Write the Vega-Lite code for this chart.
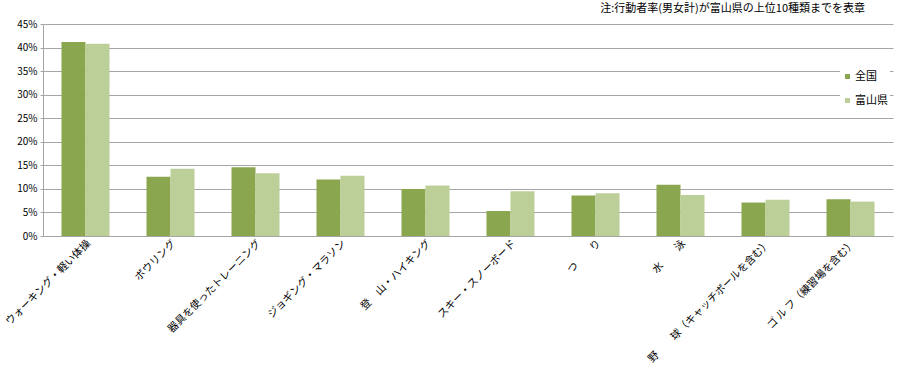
{
  "$schema": "https://vega.github.io/schema/vega-lite/v6.json",
  "autosize": {"type": "none"},
  "padding": {"left": 43, "top": 24, "right": 4, "bottom": 134},
  "width": 850,
  "height": 212,
  "background": "white",
  "title": {
    "text": "注:行動者率(男女計)が富山県の上位10種類までを表章",
    "anchor": "end",
    "fontSize": 11,
    "fontWeight": "normal",
    "font": "Noto Sans CJK JP",
    "color": "#000000",
    "dx": -28,
    "offset": 5
  },
  "data": {
    "values": [
      {"sport": "ウォーキング・軽い体操", "area": "全国", "rate": 0.412},
      {"sport": "ウォーキング・軽い体操", "area": "富山県", "rate": 0.408},
      {"sport": "ボウリング", "area": "全国", "rate": 0.126},
      {"sport": "ボウリング", "area": "富山県", "rate": 0.143},
      {"sport": "器具を使ったトレーニング", "area": "全国", "rate": 0.146},
      {"sport": "器具を使ったトレーニング", "area": "富山県", "rate": 0.133},
      {"sport": "ジョギング・マラソン", "area": "全国", "rate": 0.120},
      {"sport": "ジョギング・マラソン", "area": "富山県", "rate": 0.128},
      {"sport": "登　山・ハイキング", "area": "全国", "rate": 0.100},
      {"sport": "登　山・ハイキング", "area": "富山県", "rate": 0.107},
      {"sport": "スキー・スノーボード", "area": "全国", "rate": 0.053},
      {"sport": "スキー・スノーボード", "area": "富山県", "rate": 0.095},
      {"sport": "つ　　り", "area": "全国", "rate": 0.086},
      {"sport": "つ　　り", "area": "富山県", "rate": 0.091},
      {"sport": "水　　泳", "area": "全国", "rate": 0.109},
      {"sport": "水　　泳", "area": "富山県", "rate": 0.087},
      {"sport": "野　　球（キャッチボールを含む）", "area": "全国", "rate": 0.071},
      {"sport": "野　　球（キャッチボールを含む）", "area": "富山県", "rate": 0.077},
      {"sport": "ゴ ル フ（練習場を含む）", "area": "全国", "rate": 0.078},
      {"sport": "ゴ ル フ（練習場を含む）", "area": "富山県", "rate": 0.073}
    ]
  },
  "mark": {"type": "bar"},
  "encoding": {
    "x": {
      "field": "sport",
      "type": "nominal",
      "sort": null,
      "scale": {"paddingInner": 0.435, "paddingOuter": 0.2175},
      "axis": {
        "title": null,
        "labelAngle": -45,
        "labelFont": "Noto Sans CJK JP",
        "labelFontSize": 10.5,
        "labelColor": "#000000",
        "labelLimit": 300,
        "domainColor": "#a6a6a6",
        "ticks": false,
        "labelPadding": 2
      }
    },
    "xOffset": {"field": "area", "type": "nominal", "sort": ["全国", "富山県"], "scale": {"paddingInner": 0}},
    "y": {
      "field": "rate",
      "type": "quantitative",
      "scale": {"domain": [0, 0.45], "nice": false},
      "axis": {
        "title": null,
        "format": ".0%",
        "values": [0, 0.05, 0.1, 0.15, 0.2, 0.25, 0.3, 0.35, 0.4, 0.45],
        "labelFont": "Noto Sans CJK JP",
        "labelFontSize": 10,
        "labelColor": "#000000",
        "domainColor": "#a6a6a6",
        "gridColor": "#a6a6a6",
        "tickColor": "#a6a6a6",
        "tickSize": 3,
        "labelPadding": 3
      }
    },
    "color": {
      "field": "area",
      "type": "nominal",
      "sort": ["全国", "富山県"],
      "scale": {"domain": ["全国", "富山県"], "range": ["#8aa64e", "#bccf98"]},
      "legend": {
        "title": null,
        "orient": "none",
        "legendX": 797,
        "legendY": 45,
        "symbolType": "square",
        "symbolSize": 25,
        "symbolStrokeWidth": 0,
        "labelFont": "Noto Sans CJK JP",
        "labelFontSize": 11,
        "labelColor": "#000000",
        "labelOffset": 2,
        "rowPadding": 12,
        "fillColor": "white",
        "padding": 2
      }
    }
  },
  "config": {"view": {"stroke": null}}
}
